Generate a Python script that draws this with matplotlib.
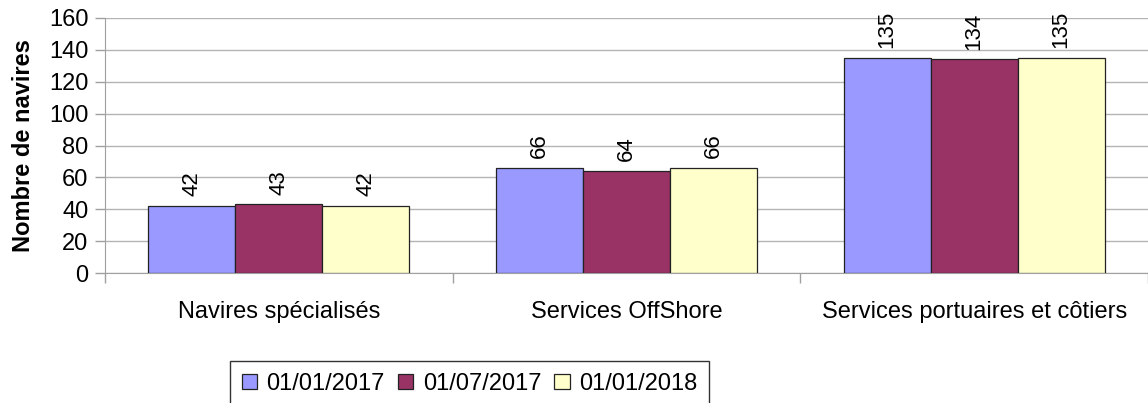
import numpy as np
from matplotlib import pyplot as plt

plt.rcParams['font.family'] = ['Liberation Sans', 'DejaVu Sans']

categories = ["Navires spécialisés", "Services OffShore", "Services portuaires et côtiers"]
series_names = ["01/01/2017", "01/07/2017", "01/01/2018"]
val_2017_01 = [42, 66, 135]
val_2017_07 = [43, 64, 134]
val_2018_01 = [42, 66, 135]
colors = ["#9999FF", "#993366", "#FFFFCC"]

W, H = 1148, 403
fig = plt.figure(figsize=(W / 100, H / 100), dpi=100)
ax = fig.add_axes([105 / W, 1 - 273 / H, 1 - 105 / W, (273 - 18) / H])

x = np.arange(len(categories)) + 0.5
width = 0.25
grey = "#a0a0a0"

for i, (vals, name, col) in enumerate(zip([val_2017_01, val_2017_07, val_2018_01], series_names, colors)):
    pos = x + (i - 1) * width
    bars = ax.bar(pos, vals, width, color=col, edgecolor="#222222", linewidth=0.9,
                  label=name, zorder=3)
    for b, v in zip(bars, vals):
        ax.annotate(str(v), (b.get_x() + b.get_width() / 2, v), xytext=(0, 7),
                    textcoords="offset points", rotation=90, ha="center", va="bottom",
                    fontsize=16)

ax.set_xlim(0, 3)
ax.set_ylim(0, 160)
ax.set_yticks(range(0, 161, 20))
ax.set_xticks(x)
ax.set_xticklabels(categories, fontsize=17)
ax.set_xticks([0, 1, 2, 3], minor=True)
ax.tick_params(axis="x", which="major", length=0, pad=20)
ax.tick_params(axis="x", which="minor", length=7, color=grey, width=1)
ax.tick_params(axis="y", length=7, color=grey, width=1, labelsize=17, pad=5)
ax.yaxis.grid(True, color="#b4b4b4", linewidth=1, zorder=0)
ax.set_axisbelow(True)
for s in ["top", "right"]:
    ax.spines[s].set_visible(False)
for s in ["left", "bottom"]:
    ax.spines[s].set_color(grey)
ax.set_ylabel("Nombre de navires", fontsize=17, fontweight="bold", labelpad=10)

leg = fig.legend(loc="upper left", bbox_to_anchor=(230 / W, 1 - 361 / H), ncol=3,
                 fontsize=17, frameon=True, fancybox=False, edgecolor="#000000",
                 handlelength=0.65, handleheight=0.65, handletextpad=0.4,
                 columnspacing=0.55, borderpad=0.5, borderaxespad=0)
leg.get_frame().set_linewidth(1)

plt.savefig("out.png", dpi=100)
plt.close()
